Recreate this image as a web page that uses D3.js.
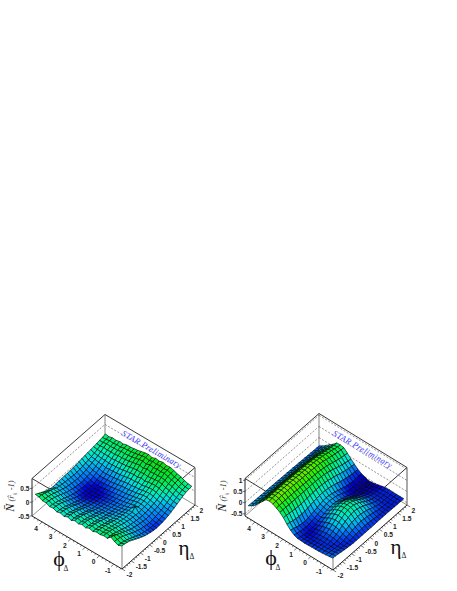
<!DOCTYPE html>
<html><head><meta charset="utf-8">
<script src="https://cdn.jsdelivr.net/npm/d3@7"></script>
<style>html,body{margin:0;padding:0;background:#fff}svg{display:block}</style></head>
<body><svg id="c" width="457" height="591"></svg>
<script>
// value of the surface in hundredths; rows = phi bins (-pi/2 .. 3pi/2), columns = eta bins (-2 .. 2)
const leftRows = [
[25,23,20,16,10,4,-2,-7,-12,-15,-18,-20,-21,-20,-19,-16,-13,-9,-4,1,6,11,15,17,19],
[20,18,16,12,7,2,-3,-8,-12,-15,-18,-19,-20,-19,-18,-15,-12,-8,-3,2,7,12,16,18,20],
[26,24,22,17,12,7,1,-4,-8,-12,-14,-16,-17,-16,-14,-12,-9,-5,0,6,11,16,20,22,24],
[34,30,24,19,14,8,3,-2,-4,-7,-9,-11,-12,-11,-9,-7,-4,0,6,11,17,22,26,28,30],
[22,21,19,16,12,8,4,0,-2,-4,-6,-7,-8,-7,-5,-3,0,4,9,15,20,25,29,31,33],
[24,23,21,18,15,11,8,4,2,-1,-2,-3,-4,-3,-1,1,4,9,14,19,25,30,34,36,38],
[20,19,18,16,13,10,7,5,2,1,0,-1,10,-1,1,3,7,11,16,21,27,32,38,40,42],
[22,21,19,17,14,11,7,4,2,0,-1,-2,-3,-2,0,2,6,10,15,20,26,31,36,38,40],
[16,15,14,11,8,5,2,-1,-2,-4,-6,-7,-7,-6,-3,-1,3,7,12,18,24,31,37,41,44],
[20,19,17,14,10,6,2,-1,-4,-6,-8,-10,-10,-9,-7,-4,0,4,9,15,22,29,35,38,41],
[14,13,11,9,5,2,-2,-5,-8,-10,-11,-12,-13,-12,-10,-6,-2,4,11,18,25,32,38,41,43],
[18,17,15,11,7,3,-1,-5,-9,-11,-13,-14,-15,-14,-12,-9,-4,1,7,14,21,27,33,36,38],
[13,12,10,7,3,-1,-4,-8,-11,-13,-15,-16,-17,-16,-14,-10,-5,1,8,15,23,30,36,40,42],
[17,16,13,10,5,1,-4,-8,-12,-15,-17,-18,-19,-18,-15,-12,-7,-1,6,13,20,28,34,38,40],
[10,9,7,4,0,-4,-8,-12,-15,-17,-19,-20,-21,-20,-18,-14,-9,-4,3,11,18,25,31,35,37],
[15,13,11,7,3,-2,-7,-12,-15,-18,-21,-22,-23,-22,-19,-16,-12,-6,1,8,15,22,28,32,34],
[9,8,6,2,-2,-6,-11,-15,-18,-21,-23,-24,-25,-24,-21,-18,-14,-8,-1,6,14,20,26,30,32],
[14,12,10,6,1,-4,-9,-14,-18,-21,-24,-25,-26,-25,-23,-19,-15,-9,-2,5,12,19,25,28,30],
[10,9,6,3,-2,-7,-11,-16,-20,-23,-25,-26,-27,-26,-24,-20,-16,-10,-3,4,12,19,25,28,30],
[16,14,12,8,3,-3,-8,-13,-18,-21,-23,-25,-26,-25,-23,-20,-16,-11,-4,3,10,16,21,24,26],
[14,13,10,7,2,-2,-7,-11,-15,-18,-20,-21,-22,-21,-19,-16,-12,-7,-1,5,11,17,22,25,27],
[20,18,16,12,8,3,-2,-7,-10,-13,-16,-17,-18,-17,-15,-13,-10,-5,0,5,11,16,20,22,24],
[20,19,17,14,10,6,1,-2,-6,-8,-10,-11,-12,-11,-9,-7,-4,0,3,7,12,18,22,24,25],
[26,24,21,16,12,8,2,0,-2,-3,-4,-5,-6,-5,-4,-2,0,2,5,8,12,16,19,21,22],
[28,22,16,10,5,1,-1,0,1,1,2,2,3,4,5,7,9,11,12,14,15,17,19,21,24]
];
const rightRows = [
[-17,-19,-21,-24,-26,-28,-30,-31,-31,-31,-31,-31,-31,-31,-31,-30,-30,-30,-30,-30,-30,-31,-31,-31,-31],
[-20,-22,-24,-27,-29,-31,-31,-30,-28,-26,-24,-23,-22,-23,-24,-26,-28,-30,-31,-32,-32,-32,-31,-31,-31],
[-22,-24,-27,-29,-31,-30,-28,-25,-21,-17,-14,-12,-11,-12,-14,-18,-21,-25,-28,-30,-31,-32,-32,-31,-31],
[-24,-26,-28,-30,-30,-28,-24,-19,-13,-8,-3,-1,0,-1,-4,-8,-13,-19,-24,-28,-30,-31,-32,-31,-31],
[-25,-27,-29,-30,-28,-25,-19,-12,-4,3,9,13,14,12,8,2,-5,-13,-20,-25,-29,-31,-31,-31,-30],
[-26,-28,-30,-30,-27,-23,-16,-8,1,9,16,21,22,20,15,8,-1,-10,-18,-24,-29,-31,-32,-31,-31],
[-26,-29,-31,-30,-28,-23,-15,-7,2,11,18,23,24,22,17,9,0,-9,-17,-24,-29,-32,-33,-34,-34],
[-27,-30,-32,-32,-29,-25,-18,-10,-1,7,14,19,20,18,13,5,-4,-13,-21,-28,-33,-36,-37,-38,-38],
[-28,-31,-33,-34,-32,-29,-23,-16,-8,-1,6,10,11,9,4,-3,-11,-20,-27,-33,-37,-40,-41,-42,-42],
[-27,-31,-34,-36,-35,-33,-29,-24,-18,-12,-7,-4,-3,-5,-9,-14,-21,-28,-34,-39,-42,-44,-45,-45,-45],
[-26,-30,-33,-36,-37,-36,-33,-30,-25,-20,-16,-13,-12,-14,-18,-22,-27,-33,-38,-42,-45,-46,-47,-47,-47],
[-20,-25,-28,-30,-32,-31,-28,-25,-21,-16,-12,-9,-7,-9,-12,-17,-22,-28,-33,-37,-40,-41,-41,-40,-40],
[-8,-13,-18,-22,-24,-25,-23,-20,-16,-12,-8,-5,-3,-5,-8,-12,-17,-22,-27,-31,-34,-35,-35,-35,-35],
[8,5,1,-2,-4,-4,-3,-1,2,5,7,9,10,8,6,3,-1,-5,-10,-14,-18,-21,-23,-24,-25],
[28,27,25,23,21,20,20,21,22,23,24,25,25,24,22,20,16,12,8,3,-1,-5,-8,-10,-12],
[42,42,42,41,41,41,41,41,41,41,41,41,41,40,39,37,34,30,25,20,15,11,7,4,2],
[52,52,53,53,53,53,53,52,52,52,51,51,50,50,49,47,45,42,38,34,30,26,22,20,18],
[60,61,62,63,63,63,63,63,62,62,61,61,60,60,59,58,56,54,50,47,43,40,37,35,33],
[64,65,66,66,66,66,66,66,65,65,64,64,63,63,62,61,60,58,55,52,48,45,41,38,36],
[60,60,61,61,61,61,61,61,60,60,60,59,58,58,57,56,55,53,50,47,44,41,38,36,35],
[42,43,43,44,44,44,44,44,44,43,43,42,42,42,41,40,39,37,35,33,30,27,24,22,20],
[25,25,25,25,25,25,25,25,24,24,24,23,23,23,22,22,21,20,18,17,15,13,11,9,8],
[7,7,7,6,6,6,6,6,6,5,5,5,5,5,4,4,3,3,2,1,0,-1,-3,-4,-5],
[-6,-7,-7,-8,-8,-8,-9,-9,-9,-9,-10,-10,-10,-10,-10,-11,-11,-12,-12,-13,-14,-15,-16,-16,-17],
[-15,-16,-16,-17,-17,-18,-18,-18,-19,-19,-19,-20,-20,-20,-21,-21,-22,-22,-23,-23,-24,-24,-25,-25,-26]
];
const phiTicks = [-1,0,1,2,3,4];
const etaTicks = [-2,-1.5,-1,-0.5,0,0.5,1,1.5,2];
const leftZTicks = [-0.5,0,0.5];
const rightZTicks = [-0.5,0,0.5,1];
const leftColorStops = [-0.30,-0.24,-0.15,-0.05,0.05,0.14,0.22,0.34,0.45];
const rightColorStops = [-0.47,-0.36,-0.20,-0.05,0.10,0.25,0.42,0.55,0.66];
const palette = ["#00009a","#0000e6","#0070ff","#00a8f8","#00e0e0","#00f0b0","#00f070","#00e830","#10e000"];
const paletteRight = ["#00008c","#0000d8","#0068f8","#00c0f0","#00e8d0","#00f090","#00f040","#30f000","#70f000"];
const starLabel = "STAR Preliminary";

const PI = Math.PI;
const svg = d3.select("#c");
const nBins = 25;
const phiCentres = d3.range(nBins).map(i => -PI/2 + (i+0.5)*2*PI/nBins);
const etaCentres = d3.range(nBins).map(j => -2 + (j+0.5)*4/nBins);

function panel(o){
  const fPhi = d3.scaleLinear().domain([-PI/2, 3*PI/2]).range([0,1]);
  const fEta = d3.scaleLinear().domain([-2,2]).range([0,1]);
  const hZ = d3.scaleLinear().domain(o.zDomain).range([0,37.5]);
  const zTop = o.zDomain[1], zBot = o.zDomain[0];
  const P = (phi,eta,z) => [
    o.F[0] + o.u[0]*fPhi(phi) + o.v[0]*fEta(eta),
    o.F[1] + o.u[1]*fPhi(phi) + o.v[1]*fEta(eta) - hZ(z)
  ];
  const color = d3.scaleLinear().domain(o.stops).range(o.colors).clamp(true);
  const g = svg.append("g");
  const phiA=-PI/2, phiB=3*PI/2, etaA=-2, etaB=2;
  const ln = (a,b,st,w,dash) => g.append("line").attr("x1",a[0]).attr("y1",a[1]).attr("x2",b[0]).attr("y2",b[1])
     .attr("stroke",st).attr("stroke-width",w).attr("stroke-dasharray",dash||null);

  // dashed levels on the back walls
  o.zTicks.forEach(t => {
    if (t===o.zTicks[0] && Math.abs(t-zBot)<0.02) return;
    ln(P(phiB,etaA,t),P(phiB,etaB,t),"#666",0.7,"2,1.6");
    ln(P(phiB,etaB,t),P(phiA,etaB,t),"#666",0.7,"2,1.6");
  });
  // box
  const K="#222";
  ln(P(phiB,etaA,zTop),P(phiB,etaB,zTop),K,0.9);
  ln(P(phiB,etaB,zTop),P(phiA,etaB,zTop),K,0.9);
  ln(P(phiB,etaA,zTop),P(phiA,etaA,zTop),K,0.9);
  ln(P(phiA,etaB,zTop),P(phiA,etaA,zTop),K,0.9);
  ln(P(phiB,etaB,zBot),P(phiB,etaB,zTop),"#666",0.8);
  ln(P(phiB,etaA,zBot),P(phiB,etaA,zTop),K,1);
  ln(P(phiA,etaB,zBot),P(phiA,etaB,zTop),"#555",1);
  ln(P(phiA,etaA,zBot),P(phiA,etaA,zTop),"#888",1.1);
  ln(P(phiB,etaA,zBot),P(phiB,etaB,zBot),"#666",0.7);
  ln(P(phiB,etaB,zBot),P(phiA,etaB,zBot),"#666",0.7);
  ln(P(phiB,etaA,zBot),P(phiA,etaA,zBot),K,1);
  ln(P(phiA,etaA,zBot),P(phiA,etaB,zBot),K,1);

  // STAR label
  g.append("text").attr("transform",`translate(${o.star[0]},${o.star[1]}) rotate(29.8)`)
    .attr("font-family","Liberation Serif").attr("font-style","italic").attr("font-size",8.6)
    .attr("fill","#3c3cff").attr("textLength",67).attr("lengthAdjust","spacing").text(starLabel);

  // surface, painted back to front
  const cells=[];
  for(let i=nBins-2;i>=0;i--) for(let j=nBins-2;j>=0;j--) cells.push([i,j]);
  g.append("g").selectAll("path").data(cells).join("path")
    .attr("d",([i,j]) => {
      const Q=(a,b)=>P(phiCentres[a],etaCentres[b],o.rows[a][b]/100);
      return "M"+[Q(i,j),Q(i+1,j),Q(i+1,j+1),Q(i,j+1)].map(p=>p.map(v=>v.toFixed(2)).join(",")).join("L")+"Z";
    })
    .attr("fill",([i,j]) => color((o.rows[i][j]+o.rows[i+1][j]+o.rows[i+1][j+1]+o.rows[i][j+1])/400))
    .attr("stroke","#000").attr("stroke-width",0.62).attr("stroke-linejoin","round");

  // axis ticks
  const fs=6.6, ff="Liberation Sans";
  const lab=(x,y,s,anc)=>g.append("text").attr("x",x).attr("y",y).attr("font-family",ff).attr("font-size",fs)
     .attr("font-weight","bold").attr("fill","#222").attr("text-anchor",anc||"middle").attr("dominant-baseline","central").text(s);
  const uN=Math.hypot(o.u[0],o.u[1]), vN=Math.hypot(o.v[0],o.v[1]);
  d3.range(-1.5,4.75,0.25).forEach(t=>{
    const a=P(t,etaA,zBot), maj=Number.isInteger(t), L=maj?3.6:1.8;
    ln(a,[a[0]-o.v[0]/vN*L,a[1]-o.v[1]/vN*L],K,0.6);
  });
  phiTicks.forEach(t=>{const a=P(t,etaA,zBot); lab(a[0]-6,a[1]+6.2,String(t));});
  d3.range(-2,2.01,0.125).forEach(t=>{
    const a=P(phiA,t,zBot), maj=(t*2)===Math.round(t*2), L=maj?3.6:1.8;
    ln(a,[a[0]-o.u[0]/uN*L,a[1]-o.u[1]/uN*L],K,0.6);
  });
  etaTicks.forEach(t=>{const a=P(phiA,t,zBot); lab(a[0]+4.5,a[1]+5.5,String(t),"start");});
  o.zTicks.forEach(t=>{
    const a=P(phiB,etaA,t);
    ln(a,[a[0]-2,a[1]],K,0.6);
    lab(a[0]-2.5,a[1],String(t),"end");
  });

  // axis titles
  const big=(x,y,s,size)=>g.append("text").attr("x",x).attr("y",y).attr("font-family","Liberation Serif").attr("font-size",size).attr("fill","#111").attr("text-anchor","middle").text(s);
  const sub=(x,y)=>g.append("text").attr("x",x).attr("y",y).attr("font-family","Liberation Serif").attr("font-size",7.5).attr("fill","#222").attr("text-anchor","start").text("Δ");
  big(o.phiT[0],o.phiT[1],"ϕ",22); sub(o.phiT[0]+4.5,o.phiT[1]+5);
  big(o.etaT[0],o.etaT[1],"η",21); sub(o.etaT[0]+5.5,o.etaT[1]+4);

  const zt=g.append("text").attr("transform",`translate(${o.zT[0]},${o.zT[1]}) rotate(-90)`)
    .attr("font-family","Liberation Serif").attr("font-style","italic").attr("fill","#444").attr("font-size",8.6).attr("text-anchor","middle");
  zt.append("tspan").attr("font-size",12).attr("fill","#111").text("N\u0304");
  zt.append("tspan").text(" (r\u0302");
  zt.append("tspan").attr("font-size",5).attr("dy",1.5).text("ij");
  zt.append("tspan").attr("dy",-1.5).text(" -1)");
}

panel({rows:leftRows,F:[122,569],u:[-90,-53],v:[73,-64],zDomain:[-0.5,0.86],zTicks:leftZTicks,stops:leftColorStops,colors:palette,
  star:[121,435],phiT:[59,566],etaT:[184,555],zT:[14,496]});
panel({rows:rightRows,F:[333,570],u:[-88,-54],v:[74,-65],zDomain:[-0.6,1.08],zTicks:rightZTicks,stops:rightColorStops,colors:paletteRight,
  star:[332,435],phiT:[271,565],etaT:[396,554],zT:[226,496]});
</script></body></html>
